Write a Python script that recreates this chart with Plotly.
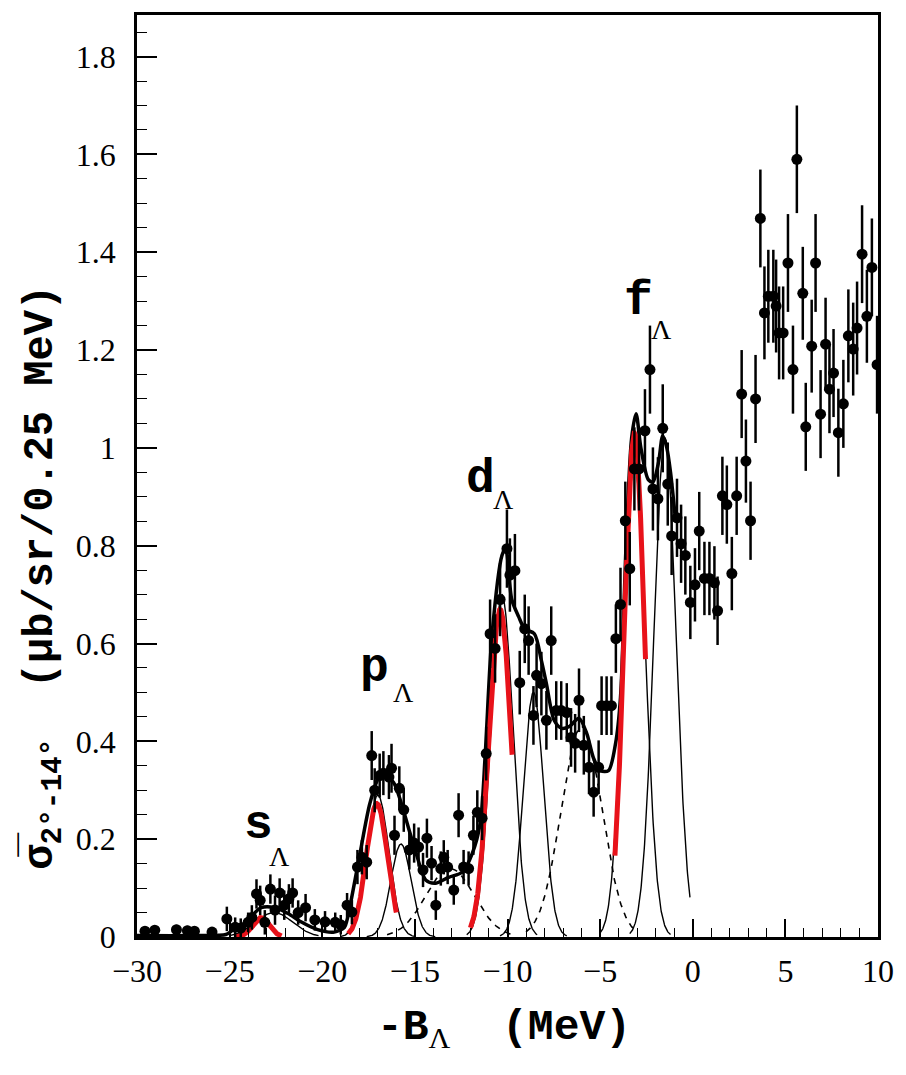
import numpy as np
import plotly.graph_objects as go

# ---------------- data ----------------
data_x = [-29.57, -29.04, -27.87, -27.28, -26.9, -25.95,
          -25.15, -24.7, -24.4, -24.0, -23.8, -23.55, -23.35, -23.1, -22.8, -22.55, -22.3, -22.05,
          -21.8, -21.6, -21.3, -20.9, -20.4, -19.85, -19.3, -19.0, -18.66, -18.4, -18.1, -17.86,
          -17.6, -17.33, -17.17, -16.9, -16.7, -16.4, -16.26, -16.1, -15.84, -15.6, -15.3, -15.04,
          -14.8, -14.56, -14.35, -14.1, -13.87, -13.6, -13.44, -13.23, -12.9, -12.64, -12.37, -12.1,
          -11.84, -11.63, -11.37, -11.15, -10.94, -10.67, -10.4, -10.03, -9.87, -9.6, -9.34, -9.07,
          -8.86, -8.6, -8.43, -8.17, -7.9, -7.64, -7.37, -7.1, -6.8, -6.57, -6.35, -6.14, -5.88,
          -5.6, -5.35, -5.08, -4.92, -4.65, -4.39, -4.15, -3.9, -3.64, -3.4, -3.15, -2.9, -2.58,
          -2.31, -2.15, -1.88, -1.62, -1.35, -1.14, -0.85, -0.63, -0.4, -0.13, 0.12, 0.35, 0.63,
          0.9, 1.17, 1.34, 1.6, 1.84, 2.11, 2.37, 2.64, 2.87, 3.12, 3.39, 3.65, 3.87, 4.08, 4.35,
          4.5, 4.66, 4.88, 5.14, 5.41, 5.62, 5.94, 6.1, 6.42, 6.63, 6.9, 7.17, 7.38, 7.6, 7.86,
          8.13, 8.4, 8.66, 8.87, 9.14, 9.4, 9.67, 9.95]
data_y = [0.012, 0.014, 0.015, 0.013, 0.012, 0.01,
          0.037, 0.02, 0.018, 0.03, 0.04, 0.088, 0.075, 0.03, 0.098, 0.055, 0.09, 0.065,
          0.078, 0.09, 0.05, 0.06, 0.035, 0.031, 0.03, 0.025, 0.065, 0.051, 0.143, 0.163,
          0.153, 0.371, 0.30, 0.33, 0.335, 0.327, 0.345, 0.208, 0.304, 0.26, 0.178, 0.192,
          0.184, 0.137, 0.202, 0.151, 0.065, 0.14, 0.163, 0.143, 0.096, 0.249, 0.143, 0.14,
          0.208, 0.255, 0.243, 0.375, 0.62, 0.59, 0.69, 0.794, 0.74, 0.749, 0.52, 0.63,
          0.606, 0.453, 0.535, 0.518, 0.443, 0.606, 0.463, 0.463, 0.459, 0.408, 0.396, 0.484, 0.392,
          0.347, 0.296, 0.347, 0.473, 0.473, 0.473, 0.61, 0.68, 0.851, 0.753, 0.957, 0.957, 1.035,
          1.16, 0.916, 0.896, 1.04, 0.926, 0.82, 0.857, 0.804, 0.78, 0.684, 0.72, 0.83, 0.733,
          0.733, 0.724, 0.667, 0.902, 0.884, 0.743, 0.902, 1.11, 0.973, 0.851, 1.1, 1.469, 1.276, 1.31, 1.31,
          1.29, 1.235, 1.235, 1.378, 1.16, 1.59, 1.316, 1.043, 1.208, 1.378, 1.069, 1.212, 1.12, 1.153, 1.031,
          1.09, 1.229, 1.202, 1.245, 1.396, 1.269, 1.369, 1.17]
data_err = [0.01, 0.01, 0.01, 0.01, 0.01, 0.01,
            0.025, 0.02, 0.02, 0.02, 0.025, 0.03, 0.03, 0.025, 0.03, 0.03, 0.03, 0.03,
            0.03, 0.03, 0.025, 0.028, 0.022, 0.022, 0.02, 0.02, 0.025, 0.025, 0.035, 0.035,
            0.035, 0.05, 0.045, 0.045, 0.045, 0.045, 0.05, 0.04, 0.045, 0.045, 0.04, 0.04,
            0.04, 0.035, 0.04, 0.035, 0.03, 0.035, 0.035, 0.035, 0.03, 0.045, 0.035, 0.035,
            0.04, 0.045, 0.045, 0.055, 0.07, 0.07, 0.075, 0.08, 0.075, 0.075, 0.065, 0.07,
            0.07, 0.06, 0.065, 0.065, 0.06, 0.07, 0.06, 0.06, 0.06, 0.06, 0.06, 0.065, 0.06,
            0.055, 0.05, 0.055, 0.06, 0.06, 0.06, 0.07, 0.075, 0.08, 0.075, 0.085, 0.085, 0.085,
            0.09, 0.085, 0.085, 0.09, 0.085, 0.08, 0.08, 0.08, 0.08, 0.075, 0.075, 0.08, 0.075,
            0.075, 0.075, 0.07, 0.08, 0.08, 0.075, 0.08, 0.09, 0.085, 0.08, 0.09, 0.1, 0.095, 0.095, 0.095,
            0.095, 0.095, 0.095, 0.1, 0.09, 0.11, 0.095, 0.09, 0.095, 0.1, 0.09, 0.095, 0.09, 0.09, 0.09,
            0.09, 0.095, 0.095, 0.095, 0.1, 0.095, 0.1, 0.1]

# total fit curve (thick black)
total_x = [-30, -27, -25.2, -24.9, -24.15, -23.3, -22.55, -21.85, -21.15, -20.25, -19.35, -18.8,
           -18.66, -18.0, -17.43, -16.95, -16.63, -16.15, -15.73, -15.36, -14.93, -14.4, -13.87,
           -13.18, -12.43, -11.9, -11.47, -11.2, -10.83, -10.3, -10.1, -9.77, -9.4, -9.07, -8.55,
           -8.17, -7.9, -7.48, -7.1, -6.68, -6.14, -5.72, -5.35, -4.97, -4.55, -4.17, -3.9, -3.6,
           -3.3, -3.06, -2.8, -2.4, -2.15, -1.85, -1.62, -1.4, -1.2, -0.95]
total_y = [0.003, 0.003, 0.005, 0.012, 0.03, 0.06, 0.06, 0.048, 0.031, 0.015, 0.01, 0.02,
           0.035, 0.163, 0.273, 0.325, 0.331, 0.316, 0.273, 0.225, 0.171, 0.116, 0.11,
           0.122, 0.133, 0.171, 0.233, 0.375, 0.62, 0.78, 0.795, 0.69, 0.655, 0.63, 0.62,
           0.565, 0.518, 0.443, 0.427, 0.43, 0.447, 0.416, 0.365, 0.34, 0.34, 0.395, 0.49, 0.8,
           1.02, 1.07, 1.0, 0.935, 0.93, 0.97, 1.025, 1.0, 0.95, 0.86]

# single-level components (thin solid): centre, height, sigma, drawn range
thin_c = [-22.6, -17.0, -15.75, -10.3, -8.6, -3.15, -1.5]
thin_h = [0.05, 0.29, 0.19, 0.70, 0.50, 0.97, 1.02]
thin_s = [1.0, 0.6, 0.55, 0.6, 0.55, 0.6, 0.6]
thin_lo = [-25.0, -19.0, -17.6, -12.2, -10.4, -5.0, -3.4]
thin_hi = [-20.2, -15.0, -13.9, -8.4, -6.8, -1.2, -0.15]

# dashed components
dash_c = [-13.1, -6.0]
dash_h = [0.14, 0.43]
dash_s = [1.3, 1.1]
dash_lo = [-16.5, -9.0]
dash_hi = [-9.8, -3.0]

# red (theory) curves
red_c = [-23.3, -17.05, -10.4, -3.15]
red_h = [0.04, 0.273, 0.67, 1.03]
red_s = [0.45, 0.57, 0.6, 0.55]
red_lo = [-24.7, -18.6, -12.0, -4.2]
red_hi = [-22.2, -16.0, -9.75, -2.55]

x_ticks = [-30, -25, -20, -15, -10, -5, 0, 5, 10]
y_ticks = [0, 0.2, 0.4, 0.6, 0.8, 1.0, 1.2, 1.4, 1.6, 1.8]
y_ticktext = ["0", "0.2", "0.4", "0.6", "0.8", "1", "1.2", "1.4", "1.6", "1.8"]

labels = ["s", "p", "d", "f"]
label_x = [-23.45, -17.17, -11.47, -2.95]
label_y = [0.229, 0.549, 0.937, 1.30]
sub_x = [-22.3, -15.6, -10.2, -1.7]
sub_y = [0.165, 0.500, 0.895, 1.242]

# ---------------- figure ----------------
fig = go.Figure()

def gauss_curve(c, h, s, lo, hi):
    xs = np.linspace(lo, hi, 200)
    return xs, h * np.exp(-0.5 * ((xs - c) / s) ** 2)

for c, h, s, lo, hi in zip(dash_c, dash_h, dash_s, dash_lo, dash_hi):
    xs, ys = gauss_curve(c, h, s, lo, hi)
    fig.add_trace(go.Scatter(x=xs, y=ys, mode="lines",
                             line=dict(color="black", width=1.6, dash="6px,6px"),
                             showlegend=False, hoverinfo="skip"))

for c, h, s, lo, hi in zip(thin_c, thin_h, thin_s, thin_lo, thin_hi):
    xs, ys = gauss_curve(c, h, s, lo, hi)
    fig.add_trace(go.Scatter(x=xs, y=ys, mode="lines",
                             line=dict(color="black", width=1.4),
                             showlegend=False, hoverinfo="skip"))

fig.add_trace(go.Scatter(x=total_x, y=total_y, mode="lines",
                         line=dict(color="black", width=3.5, shape="spline", smoothing=0.8),
                         showlegend=False, hoverinfo="skip"))

for c, h, s, lo, hi in zip(red_c, red_h, red_s, red_lo, red_hi):
    xs, ys = gauss_curve(c, h, s, lo, hi)
    fig.add_trace(go.Scatter(x=xs, y=ys, mode="lines",
                             line=dict(color="#e8121a", width=5),
                             showlegend=False, hoverinfo="skip"))

fig.add_trace(go.Scatter(x=data_x, y=data_y, mode="markers",
                         marker=dict(color="black", size=11),
                         error_y=dict(type="data", array=data_err, color="black",
                                      thickness=2.5, width=0),
                         showlegend=False, hoverinfo="skip"))

mono = "Liberation Mono, Courier New, monospace"
serif = "Liberation Serif, Times New Roman, serif"

for t, lx, ly, sx, sy in zip(labels, label_x, label_y, sub_x, sub_y):
    fig.add_annotation(x=lx, y=ly, xref="x", yref="y", text="<b>" + t + "</b>",
                       showarrow=False, font=dict(family=mono, size=48, color="black"))
    fig.add_annotation(x=sx, y=sy, xref="x", yref="y", text="Λ",
                       showarrow=False, font=dict(family=serif, size=28, color="black"))

fig.add_annotation(x=-0.165, y=0.39, xref="paper", yref="paper", textangle=-90,
                   text="<b>σ̅<sub>2°-14°</sub>  (μb/sr/0.25 MeV)</b>",
                   showarrow=False, font=dict(family=mono, size=42, color="black"))
fig.add_annotation(x=0.495, y=-0.13, xref="paper", yref="paper",
                   text="<b>-B</b><sub><span style='font-family:Liberation Serif'>Λ</span></sub><b>  (MeV)</b>",
                   showarrow=False, font=dict(family=mono, size=43, color="black"))

fig.update_layout(
    width=906, height=1075,
    margin=dict(l=137, r=18, t=14, b=138),
    paper_bgcolor="white", plot_bgcolor="white",
    xaxis=dict(range=[-30, 10], tickvals=x_ticks, ticks="inside", ticklen=18, tickwidth=1.5,
               tickcolor="black", showgrid=False, zeroline=False, showline=True, linecolor="black",
               linewidth=2.5, mirror=True, ticklabelstandoff=4,
               minor=dict(dtick=1, ticks="inside", ticklen=9, tickcolor="black", tickwidth=1.2),
               tickfont=dict(family=serif, size=32, color="black")),
    yaxis=dict(range=[0, 1.885], tickvals=y_ticks, ticktext=y_ticktext, ticks="inside", ticklen=20,
               tickwidth=1.5, tickcolor="black", showgrid=False, zeroline=False, showline=True,
               linecolor="black", linewidth=2.5, mirror=True, ticklabelstandoff=12,
               minor=dict(dtick=0.05, ticks="inside", ticklen=10, tickcolor="black", tickwidth=1.2),
               tickfont=dict(family=serif, size=32, color="black")),
)

fig.write_html("out.html")
